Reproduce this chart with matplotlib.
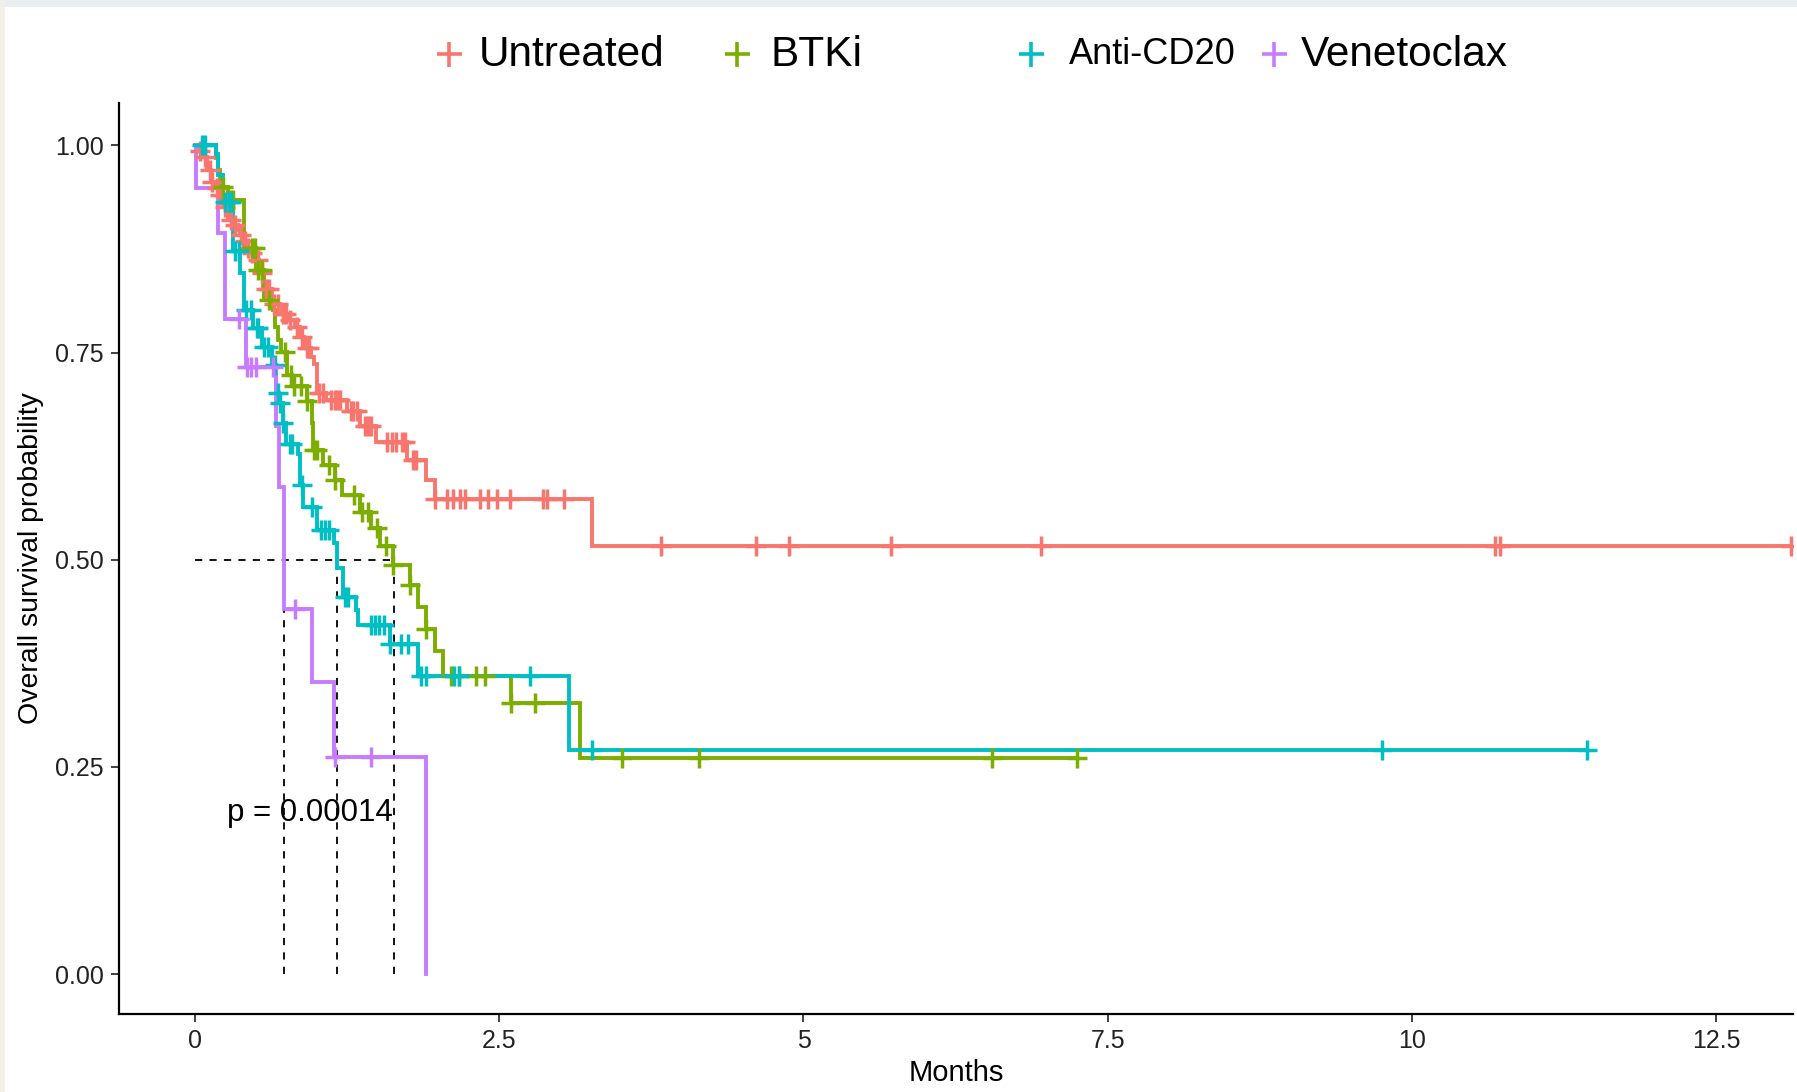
import numpy as np
import matplotlib
matplotlib.use("Agg")
from matplotlib import pyplot as plt
from matplotlib.lines import Line2D
from matplotlib.patches import Rectangle

plt.rcParams['font.family'] = ['Liberation Sans', 'DejaVu Sans']

# Kaplan-Meier steps (time in months, survival after the drop)
untreated_t = [0.02, 0.05, 0.10, 0.13, 0.16, 0.19, 0.23, 0.27, 0.32, 0.35, 0.37, 0.40, 0.43,
               0.46, 0.50, 0.53, 0.56, 0.63, 0.70, 0.76, 0.82, 0.86, 0.90, 0.95, 0.98, 1.00,
               1.08, 1.25, 1.36, 1.49, 1.74, 1.90, 1.97, 3.26]
untreated_s = [0.993, 0.986, 0.970, 0.956, 0.948, 0.940, 0.926, 0.910, 0.904, 0.898, 0.892,
               0.884, 0.876, 0.870, 0.862, 0.846, 0.826, 0.809, 0.797, 0.789, 0.781, 0.769,
               0.755, 0.745, 0.736, 0.701, 0.693, 0.679, 0.661, 0.642, 0.620, 0.596, 0.573,
               0.516]
untreated_end = 13.11
untreated_cens = [0.04, 0.08, 0.12, 0.14, 0.18, 0.21, 0.25, 0.30, 0.33, 0.38, 0.41, 0.44, 0.47,
                  0.52, 0.55, 0.58, 0.61, 0.65, 0.68, 0.72, 0.75, 0.78, 0.84, 0.88, 0.92, 0.94,
                  1.02, 1.05, 1.12, 1.15, 1.17, 1.19, 1.28, 1.30, 1.33, 1.40, 1.42, 1.45, 1.58,
                  1.62, 1.65, 1.70, 1.73, 1.79, 1.82, 1.97, 2.07, 2.12, 2.18, 2.22, 2.34, 2.41,
                  2.48, 2.59, 2.86, 2.89, 3.03, 3.83, 4.61, 4.88, 5.72, 6.95, 10.68, 10.72, 13.11]

btki_t = [0.17, 0.19, 0.21, 0.27, 0.40, 0.50, 0.57, 0.64, 0.66, 0.68, 0.71, 0.76, 0.80, 0.92,
          0.96, 0.97, 1.055, 1.15, 1.205, 1.356, 1.45, 1.52, 1.63, 1.77, 1.835, 1.90, 1.97,
          2.04, 2.60, 3.16]
btki_s = [0.985, 0.970, 0.950, 0.934, 0.876, 0.850, 0.813, 0.801, 0.781, 0.765, 0.751, 0.723,
          0.709, 0.691, 0.665, 0.632, 0.614, 0.596, 0.578, 0.558, 0.538, 0.516, 0.494, 0.469,
          0.443, 0.417, 0.390, 0.3596, 0.3267, 0.261]
btki_end = 7.25
btki_cens = [0.23, 0.29, 0.31, 0.47, 0.49, 0.52, 0.55, 0.61, 0.74, 0.79, 0.81, 0.87, 0.92,
             0.98, 1.00, 1.10, 1.15, 1.31, 1.37, 1.42, 1.50, 1.57, 1.63, 1.77, 1.90, 2.10,
             2.17, 2.31, 2.38, 2.60, 2.79, 3.51, 4.14, 6.55, 7.25]

cd20_t = [0.17, 0.19, 0.23, 0.315, 0.37, 0.40, 0.48, 0.55, 0.63, 0.665, 0.69, 0.72, 0.75,
          0.85, 0.86, 0.89, 1.00, 1.14, 1.165, 1.22, 1.32, 1.34, 1.60, 1.83, 3.07]
cd20_s = [0.990, 0.964, 0.932, 0.872, 0.846, 0.801, 0.779, 0.757, 0.735, 0.701, 0.689, 0.665,
          0.640, 0.628, 0.590, 0.564, 0.536, 0.520, 0.4896, 0.455, 0.439, 0.421, 0.398,
          0.3596, 0.270]
cd20_end = 11.44
cd20_cens = [0.06, 0.08, 0.25, 0.28, 0.30, 0.33, 0.36, 0.42, 0.46, 0.51, 0.52, 0.57, 0.60,
             0.66, 0.68, 0.70, 0.72, 0.78, 0.80, 0.88, 0.96, 1.04, 1.07, 1.10, 1.23, 1.26,
             1.45, 1.48, 1.51, 1.55, 1.60, 1.69, 1.75, 1.86, 1.90, 2.13, 2.17, 2.75, 3.26,
             9.75, 11.44]

ven_t = [0.005, 0.19, 0.25, 0.42, 0.67, 0.69, 0.73, 0.96, 1.14, 1.90]
ven_s = [0.948, 0.894, 0.791, 0.733, 0.661, 0.588, 0.441, 0.353, 0.262, 0.0]
ven_end = 1.90
ven_cens = [0.36, 0.43, 0.46, 0.50, 0.64, 0.82, 1.15, 1.45]

labels = ['Untreated', 'BTKi', 'Anti-CD20', 'Venetoclax']
colors = ['#F8766D', '#7CAE00', '#00BFC4', '#C77CFF']
medians = [0.734, 1.164, 1.635]   # Venetoclax, Anti-CD20, BTKi
pval = 'p = 0.00014'

groups = [(untreated_t, untreated_s, untreated_end, untreated_cens),
          (btki_t, btki_s, btki_end, btki_cens),
          (cd20_t, cd20_s, cd20_end, cd20_cens),
          (ven_t, ven_s, ven_end, ven_cens)]

fig = plt.figure(figsize=(17.97, 10.92), dpi=100)
ax = fig.add_axes([0.0662, 0.0714, 0.9316, 0.8343])

for (t, s, end, cens), col in zip(groups, colors):
    x = np.array([0.0] + t + [end])
    y = np.array([1.0] + s + [s[-1]])
    ax.step(x, y, where='post', color=col, lw=2.8, solid_joinstyle='miter', zorder=3)
    idx = np.searchsorted(x[:-1], cens, side='right') - 1
    ax.plot(cens, y[idx], ls='none', marker='+', ms=14, mew=2.5, color=col, zorder=4)

# median survival guides
ax.plot([0, max(medians)], [0.5, 0.5], ls=(0, (4, 4)), color='black', lw=1.3, zorder=2)
for m in medians:
    ax.plot([m, m], [0, 0.5], ls=(0, (4, 4)), color='black', lw=1.3, zorder=2)

ax.text(0.26, 0.195, pval, fontsize=22.5, va='center', ha='left', zorder=5)

ax.set_xlim(-0.624, 13.13)
ax.set_ylim(-0.048, 1.051)
ax.set_xticks([0, 2.5, 5, 7.5, 10, 12.5])
ax.set_xticklabels(['0', '2.5', '5', '7.5', '10', '12.5'])
ax.set_yticks([0, 0.25, 0.5, 0.75, 1.0])
ax.set_yticklabels(['0.00', '0.25', '0.50', '0.75', '1.00'])
ax.tick_params(labelsize=18, length=6, width=1.3, color='#333333', labelcolor='#222222', pad=5)
for side in ['top', 'right']:
    ax.spines[side].set_visible(False)
for side in ['left', 'bottom']:
    ax.spines[side].set_linewidth(1.6)
ax.set_xlabel('Months', fontsize=21, labelpad=4)
ax.set_ylabel('Overall survival probability', fontsize=20.5, labelpad=8)

# legend laid out across the top
leg_marker_x = [0.2499, 0.4101, 0.5737, 0.7090]
leg_text_x = [0.2666, 0.4285, 0.5949, 0.7240]
leg_sizes = [30.5, 30.5, 26, 30.5]
for lab, col, mx, tx, fs in zip(labels, colors, leg_marker_x, leg_text_x, leg_sizes):
    fig.add_artist(Line2D([mx], [0.951], marker='+', ms=18, mew=2.6, color=col,
                          transform=fig.transFigure))
    fig.text(tx, 0.950, lab, fontsize=fs, va='center', ha='left')

# faint screenshot border
fig.add_artist(Rectangle((0, 0.9935), 1, 0.0065, transform=fig.transFigure,
                         color='#e9eef0', lw=0))
fig.add_artist(Rectangle((0, 0), 0.003, 1, transform=fig.transFigure,
                         color='#f2efe8', lw=0))

fig.savefig('out.png', dpi=100)
